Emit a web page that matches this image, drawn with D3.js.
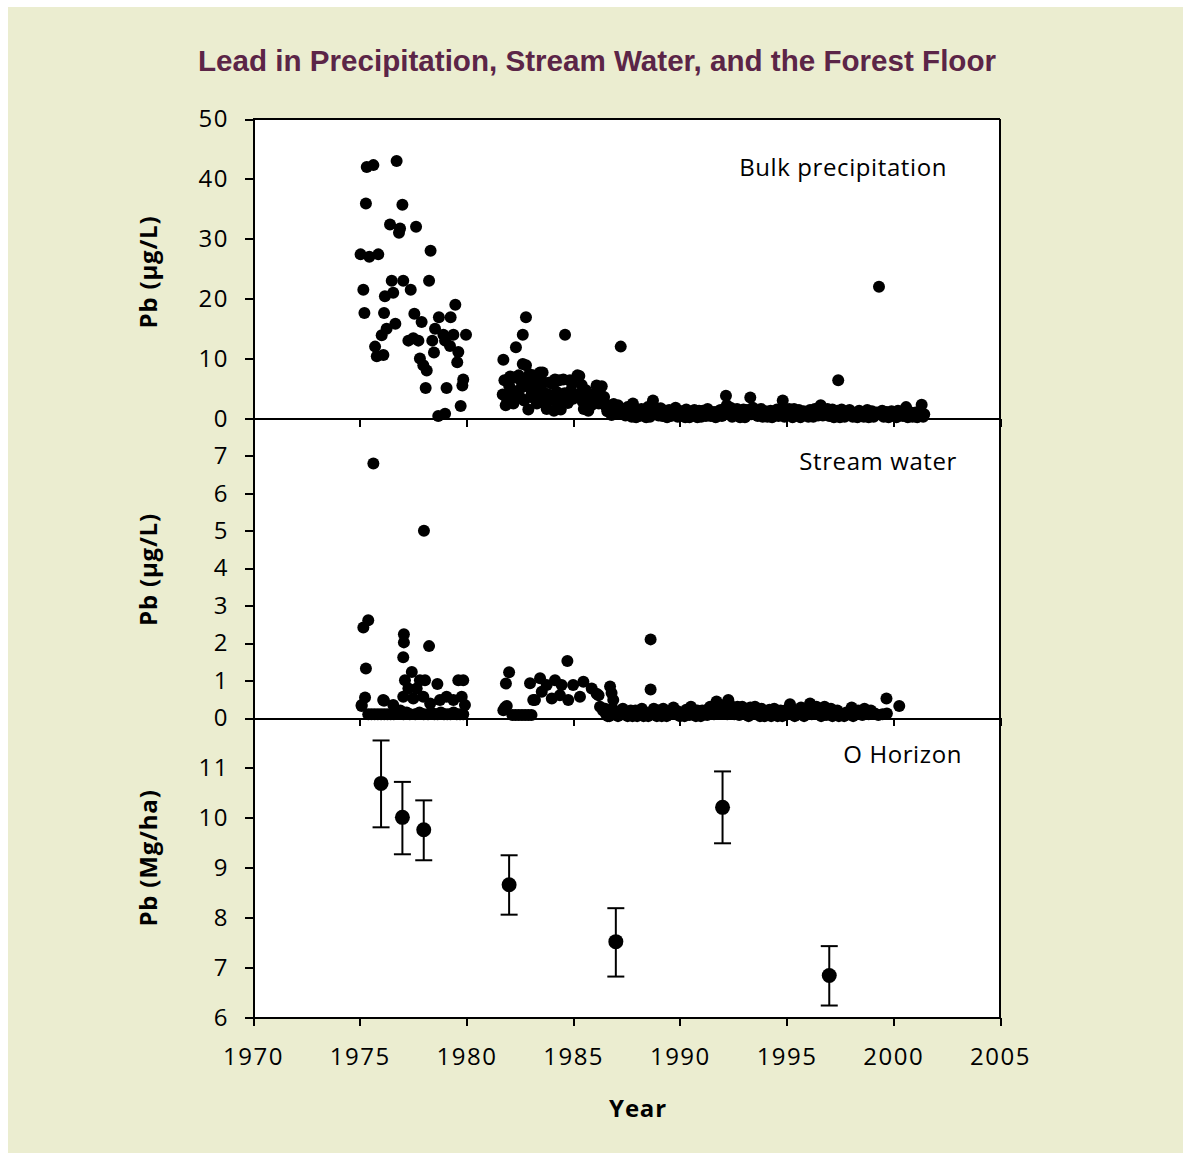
<!DOCTYPE html>
<html>
<head>
<meta charset="utf-8">
<script src="https://cdn.jsdelivr.net/npm/d3@7"></script>
<style>
  body { margin: 0; background: #fff; }
  .axis path, .axis line { stroke: #000; stroke-width: 2; shape-rendering: crispEdges; }
  .axis text { font-family: "Open Sans", sans-serif; font-size: 24px; letter-spacing: 1.5px; fill: #000; }
  .panelText { font-family: "Open Sans", sans-serif; font-size: 24px; letter-spacing: 0.6px; fill: #000; }
  .axisText { font-family: "Open Sans", sans-serif; font-size: 24px; font-weight: bold; letter-spacing: 0.8px; fill: #000; }
</style>
</head>
<body>
<div id="chart"></div>
<script>
// Data
// bulk precipitation, [year, Pb ug/L]
var bulkPrecip = [
  [1975.04,27.4],[1975.17,21.5],[1975.22,17.6],[1975.29,35.9],[1975.33,42.0],[1975.45,27.0],[1975.64,42.3],
  [1975.72,12.0],[1975.8,10.4],[1975.87,27.4],[1976.03,13.9],[1976.11,10.6],[1976.14,17.6],[1976.18,20.4],
  [1976.26,15.0],[1976.42,32.4],[1976.5,23.0],[1976.57,21.0],[1976.67,15.8],[1976.73,43.0],[1976.84,31.0],
  [1976.89,31.7],[1977.0,35.7],[1977.04,23.0],[1977.28,13.0],[1977.39,21.5],[1977.51,13.4],[1977.56,17.5],
  [1977.64,32.0],[1977.75,13.0],[1977.82,10.0],[1977.9,16.1],[1977.98,8.9],[1978.09,5.1],[1978.14,8.0],
  [1978.25,23.0],[1978.32,28.0],[1978.4,13.0],[1978.48,11.0],[1978.53,15.0],[1978.68,0.4],[1978.71,16.9],
  [1978.92,14.0],[1979.0,13.0],[1979.0,0.8],[1979.07,5.1],[1979.23,12.1],[1979.26,16.9],[1979.39,14.0],
  [1979.48,19.0],[1979.57,9.4],[1979.62,11.1],[1979.73,2.1],[1979.81,5.5],[1979.85,6.5],[1979.98,14.0],
  [1981.7,4.0],[1981.73,9.8],[1981.78,6.4],[1981.84,2.2],[1981.96,6.5],[1982.05,7.0],[1982.1,4.7],
  [1982.2,2.5],[1982.28,6.9],[1982.32,11.9],[1982.45,7.2],[1982.5,3.6],[1982.6,5.2],[1982.64,14.0],
  [1982.64,9.1],[1982.79,8.9],[1982.79,16.9],[1982.9,1.5],[1982.95,7.4],[1983.0,3.6],[1983.13,7.2],
  [1983.2,5.8],[1983.3,2.5],[1983.45,7.7],[1983.57,7.7],[1983.6,6.1],[1983.76,1.6],[1983.8,4.1],
  [1984.07,5.7],[1984.1,1.3],[1984.15,6.5],[1984.35,6.4],[1984.42,1.5],[1984.5,3.0],[1984.54,6.5],
  [1984.62,14.0],[1984.85,6.4],[1984.9,4.7],[1985.0,3.3],[1985.2,7.2],[1985.29,7.1],[1985.3,4.1],
  [1985.5,1.6],[1985.6,4.7],[1985.71,1.3],[1985.8,3.0],[1985.95,4.1],[1986.1,5.5],[1986.34,5.4],
  [1981.9,3.3],[1982.0,5.5],[1982.15,3.3],[1982.38,4.6],[1982.55,6.3],[1982.7,3.0],[1982.85,5.8],
  [1983.05,4.7],[1983.25,6.6],[1983.38,3.4],[1983.5,5.0],[1983.68,2.7],[1983.9,6.0],[1984.0,3.1],
  [1984.25,4.4],[1984.4,2.5],[1984.6,4.2],[1984.75,2.6],[1984.95,5.8],[1985.1,3.6],[1985.4,5.6],
  [1985.45,2.8],[1985.65,3.6],[1985.85,2.2],[1986.0,3.2],[1986.2,2.5],[1986.25,4.3],[1986.45,3.6],
  [1986.4,2.5],[1986.55,1.9],[1986.73,2.2],[1986.9,2.4],[1987.04,1.1],[1987.1,2.2],[1987.23,12.0],
  [1987.3,1.6],[1987.45,0.5],[1987.55,1.9],[1987.66,0.5],[1987.8,2.5],[1987.95,0.2],[1988.0,1.2],
  [1988.1,0.4],[1988.2,1.6],[1988.35,0.8],[1988.5,1.9],[1988.6,0.3],[1988.74,3.0],[1988.85,1.1],
  [1989.0,0.5],[1989.1,1.7],[1989.25,0.9],[1989.4,0.2],[1989.5,1.4],[1989.65,0.7],[1989.8,1.8],
  [1989.9,0.3],[1990.05,1.2],[1990.2,0.6],[1990.3,1.5],[1990.45,0.2],[1990.6,1.0],[1990.75,0.5],
  [1990.9,1.3],[1991.0,0.3],[1991.15,0.9],[1991.3,1.6],[1991.45,0.4],[1991.6,1.1],[1991.75,0.6],
  [1991.9,1.4],[1992.05,0.8],[1992.16,3.8],[1992.2,2.2],[1992.3,1.0],[1992.45,0.3],[1992.6,1.3],
  [1992.75,0.5],[1992.9,1.0],[1993.05,0.2],[1993.15,1.4],[1993.3,3.5],[1993.35,0.7],[1993.5,1.2],
  [1993.65,0.4],[1993.8,1.6],[1993.95,0.8],[1994.1,0.3],[1994.25,1.3],[1994.4,0.6],[1994.55,1.5],
  [1994.7,0.9],[1994.82,3.0],[1994.9,0.3],[1995.05,1.1],[1995.2,0.5],[1995.35,1.6],[1995.5,0.8],
  [1995.65,0.2],[1995.8,1.2],[1995.95,0.6],[1996.1,1.4],[1996.25,0.3],[1996.4,1.0],[1996.6,2.2],
  [1996.7,0.5],[1996.85,1.2],[1997.0,0.4],[1997.15,1.5],[1997.3,0.8],[1997.42,6.4],[1997.5,0.2],
  [1997.65,1.1],[1997.8,0.6],[1997.95,1.4],[1998.1,0.3],[1998.25,0.9],[1998.4,1.3],[1998.55,0.5],
  [1998.7,1.0],[1998.85,0.2],[1999.0,1.2],[1999.15,0.6],[1999.33,22.0],[1999.4,0.9],[1999.55,0.3],
  [1999.7,1.1],[1999.85,0.5],[2000.0,0.8],[2000.15,0.2],[2000.3,1.0],[2000.45,0.4],[2000.6,1.9],
  [2000.75,0.6],[2000.9,0.3],[2001.05,1.0],[2001.2,0.5],[2001.33,2.3],[2001.45,0.7],
  [1986.6,1.2],[1986.8,0.6],[1987.0,1.8],[1987.2,0.9],[1987.38,1.4],[1987.6,1.2],[1987.75,0.3],
  [1987.88,1.5],[1988.05,0.7],[1988.28,1.1],[1988.42,0.2],[1988.55,1.3],[1988.68,0.8],[1988.92,1.6],
  [1989.05,1.1],[1989.18,0.4],[1989.33,1.3],[1989.45,0.7],[1989.58,0.4],[1989.72,1.2],[1989.85,0.9],
  [1989.98,0.4],[1990.1,0.9],[1990.25,0.2],[1990.38,1.0],[1990.52,0.7],[1990.68,1.4],[1990.82,0.2],
  [1990.95,0.8],[1991.08,1.3],[1991.22,0.4],[1991.38,1.0],[1991.52,0.8],[1991.68,0.2],[1991.82,1.2],
  [1991.97,0.4],[1992.1,1.5],[1992.38,1.8],[1992.52,0.7],[1992.68,1.6],[1992.82,0.2],[1992.98,1.5],
  [1993.1,0.6],[1993.22,1.0],[1993.42,1.8],[1993.58,0.8],[1993.72,1.1],[1993.88,0.3],[1994.02,1.2],
  [1994.18,0.8],[1994.32,0.2],[1994.48,1.0],[1994.62,0.4],[1994.76,1.4],[1994.98,0.7],[1995.12,1.6],
  [1995.28,0.2],[1995.42,1.1],[1995.58,1.4],[1995.72,0.7],[1995.88,1.0],[1996.02,0.3],[1996.18,0.9],
  [1996.32,1.6],[1996.48,0.5],[1996.55,1.3],[1996.78,0.9],[1996.92,1.6],[1997.08,0.9],[1997.22,0.2],
  [1997.38,1.3],[1997.58,1.5],[1997.72,0.3],[1997.88,0.9],[1998.02,1.1],[1998.18,0.6],[1998.32,0.2],
  [1998.48,1.0],[1998.62,0.3],[1998.78,1.4],[1998.92,0.7],[1999.08,0.3],[1999.22,1.0],[1999.48,1.3],
  [1999.62,0.7],[1999.78,0.2],[1999.92,1.2],[2000.08,0.6],[2000.22,1.3],[2000.38,0.7],[2000.52,1.1],
  [2000.68,0.2],[2000.82,1.0],[2000.98,0.7],[2001.12,0.2],[2001.28,1.2],[2001.4,0.3]
];

// stream water, [year, Pb ug/L]
var streamWater = [
  [1975.09,0.32],[1975.09,0.35],[1975.17,2.42],[1975.25,0.55],[1975.29,1.32],[1975.4,2.61],[1975.4,0.1],
  [1975.55,0.1],[1975.64,6.8],[1975.7,0.1],[1975.85,0.1],[1976.0,0.1],[1976.1,0.48],[1976.14,0.46],
  [1976.15,0.1],[1976.3,0.1],[1976.45,0.1],[1976.57,0.35],[1976.6,0.1],[1976.75,0.15],[1976.9,0.2],
  [1977.04,1.62],[1977.04,0.57],[1977.05,0.1],[1977.07,2.24],[1977.07,2.02],[1977.12,1.01],[1977.2,0.15],
  [1977.28,0.79],[1977.35,0.1],[1977.44,1.23],[1977.51,0.52],[1977.6,0.1],[1977.67,0.79],[1977.8,0.15],
  [1977.82,1.01],[1977.98,0.57],[1978.0,0.1],[1978.01,5.0],[1978.06,1.01],[1978.2,0.1],[1978.25,1.92],
  [1978.3,0.39],[1978.35,0.15],[1978.5,0.1],[1978.64,0.91],[1978.65,0.1],[1978.76,0.48],[1978.8,0.15],
  [1978.95,0.1],[1979.07,0.57],[1979.1,0.1],[1979.25,0.1],[1979.39,0.48],[1979.4,0.15],[1979.55,0.1],
  [1979.62,1.01],[1979.7,0.1],[1979.78,0.57],[1979.85,1.01],[1979.85,0.1],[1979.93,0.35],
  [1981.73,0.21],[1981.81,0.28],[1981.85,0.92],[1981.89,0.32],[1982.0,1.22],[1982.15,0.08],[1982.3,0.08],
  [1982.45,0.08],[1982.6,0.08],[1982.75,0.08],[1982.9,0.08],[1982.98,0.93],[1983.05,0.08],[1983.13,0.48],
  [1983.21,0.48],[1983.45,1.06],[1983.53,0.7],[1983.76,0.88],[1984.0,0.52],[1984.15,1.01],[1984.38,0.61],
  [1984.46,0.88],[1984.73,1.52],[1984.77,0.48],[1985.0,0.88],[1985.32,0.57],[1985.48,0.97],[1985.87,0.79],
  [1986.1,0.65],[1986.19,0.61],[1986.26,0.3],[1986.4,0.2],[1986.55,0.1],[1986.7,0.05],[1986.73,0.84],
  [1986.8,0.67],[1986.88,0.48],[1986.95,0.15],[1987.1,0.05],[1987.25,0.2],[1987.4,0.1],[1987.55,0.05],
  [1987.7,0.2],[1987.85,0.08],[1988.0,0.05],[1988.15,0.15],[1988.3,0.05],[1988.45,0.1],[1988.63,2.1],
  [1988.63,0.76],[1988.7,0.12],[1988.85,0.1],[1989.0,0.2],[1989.15,0.05],[1989.3,0.15],[1989.45,0.08],
  [1989.6,0.2],[1989.8,0.1],[1990.0,0.05],[1990.15,0.15],[1990.3,0.22],[1990.45,0.08],[1990.6,0.18],
  [1990.75,0.05],[1990.9,0.12],[1991.05,0.2],[1991.2,0.1],[1991.35,0.25],[1991.5,0.15],[1991.72,0.44],
  [1991.85,0.2],[1992.0,0.3],[1992.15,0.12],[1992.27,0.48],[1992.4,0.25],[1992.55,0.1],[1992.7,0.3],
  [1992.85,0.15],[1993.0,0.22],[1993.15,0.08],[1993.3,0.28],[1993.45,0.12],[1993.6,0.2],[1993.75,0.05],
  [1993.9,0.15],[1994.05,0.1],[1994.2,0.22],[1994.35,0.08],[1994.5,0.18],[1994.65,0.1],[1994.8,0.05],
  [1994.95,0.2],[1995.16,0.37],[1995.3,0.15],[1995.45,0.08],[1995.6,0.2],[1995.75,0.1],[1995.9,0.25],
  [1996.1,0.39],[1996.25,0.2],[1996.4,0.3],[1996.55,0.1],[1996.7,0.2],[1996.85,0.08],[1997.0,0.15],
  [1997.15,0.05],[1997.3,0.12],[1997.45,0.05],[1997.6,0.1],[1997.8,0.15],[1998.05,0.28],[1998.2,0.12],
  [1998.35,0.2],[1998.55,0.08],[1998.75,0.15],[1999.14,0.12],[1999.5,0.1],[1999.68,0.52],[1999.7,0.12],
  [2000.28,0.32],
  [1986.5,0.25],[1986.62,0.05],[1986.85,0.25],[1987.03,0.12],[1987.18,0.08],[1987.33,0.25],[1987.48,0.15],
  [1987.62,0.1],[1987.78,0.05],[1987.92,0.2],[1988.08,0.1],[1988.22,0.25],[1988.38,0.15],[1988.52,0.05],
  [1988.78,0.25],[1988.92,0.05],[1989.08,0.1],[1989.22,0.25],[1989.38,0.05],[1989.52,0.12],[1989.7,0.28],
  [1989.9,0.18],[1990.08,0.1],[1990.22,0.05],[1990.38,0.12],[1990.52,0.3],[1990.68,0.1],[1990.82,0.2],
  [1990.98,0.05],[1991.12,0.15],[1991.28,0.08],[1991.42,0.3],[1991.6,0.1],[1991.78,0.12],[1991.92,0.35],
  [1992.08,0.2],[1992.22,0.1],[1992.35,0.35],[1992.48,0.15],[1992.62,0.25],[1992.78,0.08],[1992.92,0.3],
  [1993.08,0.15],[1993.22,0.05],[1993.38,0.18],[1993.52,0.3],[1993.68,0.1],[1993.82,0.25],[1993.98,0.05],
  [1994.12,0.15],[1994.28,0.05],[1994.42,0.25],[1994.58,0.05],[1994.72,0.2],[1994.88,0.12],[1995.05,0.1],
  [1995.22,0.25],[1995.38,0.05],[1995.52,0.12],[1995.68,0.28],[1995.82,0.05],[1995.98,0.15],[1996.18,0.1],
  [1996.32,0.15],[1996.48,0.25],[1996.62,0.05],[1996.78,0.3],[1996.92,0.1],[1997.08,0.25],[1997.22,0.1],
  [1997.38,0.2],[1997.52,0.12],[1997.7,0.05],[1997.9,0.1],[1998.12,0.05],[1998.28,0.1],[1998.45,0.15],
  [1998.65,0.25],[1998.85,0.1],[1998.95,0.2],[1999.3,0.08]
];

// O horizon, Pb Mg/ha with error bars
var oYears = [1976, 1977, 1978, 1982, 1987, 1992, 1997];
var oMean  = [10.69, 10.01, 9.76, 8.66, 7.52, 10.21, 6.84];
var oLow   = [9.81, 9.27, 9.15, 8.06, 6.82, 9.49, 6.24];
var oHigh  = [11.55, 10.72, 10.35, 9.25, 8.19, 10.93, 7.43];

// ticks
var yearTicks = [1970, 1975, 1980, 1985, 1990, 1995, 2000, 2005];
var precipTicks = [0, 10, 20, 30, 40, 50];
var streamTicks = [0, 1, 2, 3, 4, 5, 6, 7];
var oTicks = [6, 7, 8, 9, 10, 11];

var svgWidth = 1191;
var svgHeight = 1160;

var margin = { top: 119, left: 253 };
var chartWidth = 747;
var panelHeight = 299.5;

var svg = d3.select("#chart")
  .append("svg")
  .attr("width", svgWidth)
  .attr("height", svgHeight);

// beige backdrop
svg.append("rect")
  .attr("x", 8).attr("y", 7)
  .attr("width", 1175).attr("height", 1146)
  .attr("fill", "#ebedd0");

svg.append("text")
  .attr("x", 597)
  .attr("y", 71)
  .attr("text-anchor", "middle")
  .style("font-family", "'Liberation Sans', Arial, sans-serif")
  .style("font-weight", "bold")
  .style("font-size", "29.6px")
  .style("fill", "#5b2547")
  .text("Lead in Precipitation, Stream Water, and the Forest Floor");

var chartGroup = svg.append("g")
  .attr("transform", `translate(${margin.left}, ${margin.top})`);

chartGroup.append("rect")
  .attr("width", chartWidth)
  .attr("height", panelHeight * 3)
  .attr("fill", "#fff");

var xScale = d3.scaleLinear()
  .domain([1970, 2005])
  .range([0, chartWidth]);

var panels = [
  { domain: [0, 50], ticks: precipTicks, label: "Pb (µg/L)", name: "Bulk precipitation", nameY: 57, labelY: 153 },
  { domain: [0, 8], ticks: streamTicks, label: "Pb (µg/L)", name: "Stream water", nameY: 51, labelY: 151 },
  { domain: [6, 12], ticks: oTicks, label: "Pb (Mg/ha)", name: "O Horizon", nameY: 45, labelY: 140 }
];
var nameRight = [947, 957, 962];

var yScales = panels.map(function(p, i) {
  var g = chartGroup.append("g")
    .attr("transform", `translate(0, ${i * panelHeight})`);
  var y = d3.scaleLinear().domain(p.domain).range([panelHeight, 0]);
  p.g = g;

  g.append("g")
    .attr("class", "axis")
    .call(d3.axisLeft(y).tickValues(p.ticks).tickFormat(d3.format("d"))
      .tickSize(8).tickSizeOuter(0).tickPadding(16));

  var xAxis = d3.axisBottom(xScale).tickValues(yearTicks).tickSize(8).tickSizeOuter(0);
  if (i < 2) xAxis.tickFormat("");
  else xAxis.tickFormat(d3.format("d")).tickPadding(22);
  g.append("g")
    .attr("class", "axis")
    .attr("transform", `translate(0, ${panelHeight})`)
    .call(xAxis);

  g.append("text")
    .attr("class", "panelText")
    .attr("x", nameRight[i] - margin.left)
    .attr("y", p.nameY)
    .attr("text-anchor", "end")
    .text(p.name);

  g.append("text")
    .attr("class", "axisText")
    .attr("transform", `translate(${157 - margin.left}, ${p.labelY}) rotate(-90)`)
    .attr("text-anchor", "middle")
    .text(p.label);

  return y;
});

// top and right border
chartGroup.append("line")
  .attr("x1", 0).attr("x2", chartWidth)
  .attr("y1", 0).attr("y2", 0)
  .attr("stroke", "#000").attr("stroke-width", 2);
chartGroup.append("line")
  .attr("x1", xScale(2005)).attr("x2", xScale(2005))
  .attr("y1", 0).attr("y2", panelHeight * 3)
  .attr("stroke", "#000").attr("stroke-width", 2);

// points
panels[0].g.selectAll(".bulk")
  .data(bulkPrecip)
  .enter()
  .append("circle")
  .attr("cx", d => xScale(d[0]))
  .attr("cy", d => yScales[0](d[1]))
  .attr("r", 6)
  .attr("fill", "#000");

panels[1].g.selectAll(".stream")
  .data(streamWater)
  .enter()
  .append("circle")
  .attr("cx", d => xScale(d[0]))
  .attr("cy", d => yScales[1](d[1]))
  .attr("r", 6)
  .attr("fill", "#000");

// O horizon with error bars
var oData = oYears.map((yr, i) => ({ year: yr, mean: oMean[i], lo: oLow[i], hi: oHigh[i] }));
var oGroup = panels[2].g.selectAll(".ohor")
  .data(oData)
  .enter()
  .append("g");

oGroup.append("line")
  .attr("x1", d => xScale(d.year)).attr("x2", d => xScale(d.year))
  .attr("y1", d => yScales[2](d.lo)).attr("y2", d => yScales[2](d.hi))
  .attr("stroke", "#000").attr("stroke-width", 2);
oGroup.append("line")
  .attr("x1", d => xScale(d.year) - 8.5).attr("x2", d => xScale(d.year) + 8.5)
  .attr("y1", d => yScales[2](d.hi)).attr("y2", d => yScales[2](d.hi))
  .attr("stroke", "#000").attr("stroke-width", 2);
oGroup.append("line")
  .attr("x1", d => xScale(d.year) - 8.5).attr("x2", d => xScale(d.year) + 8.5)
  .attr("y1", d => yScales[2](d.lo)).attr("y2", d => yScales[2](d.lo))
  .attr("stroke", "#000").attr("stroke-width", 2);
oGroup.append("circle")
  .attr("cx", d => xScale(d.year))
  .attr("cy", d => yScales[2](d.mean))
  .attr("r", 7.5)
  .attr("fill", "#000");

// x axis label
svg.append("text")
  .attr("class", "axisText")
  .attr("x", 638)
  .attr("y", 1117)
  .attr("text-anchor", "middle")
  .text("Year");
</script>
</body>
</html>
